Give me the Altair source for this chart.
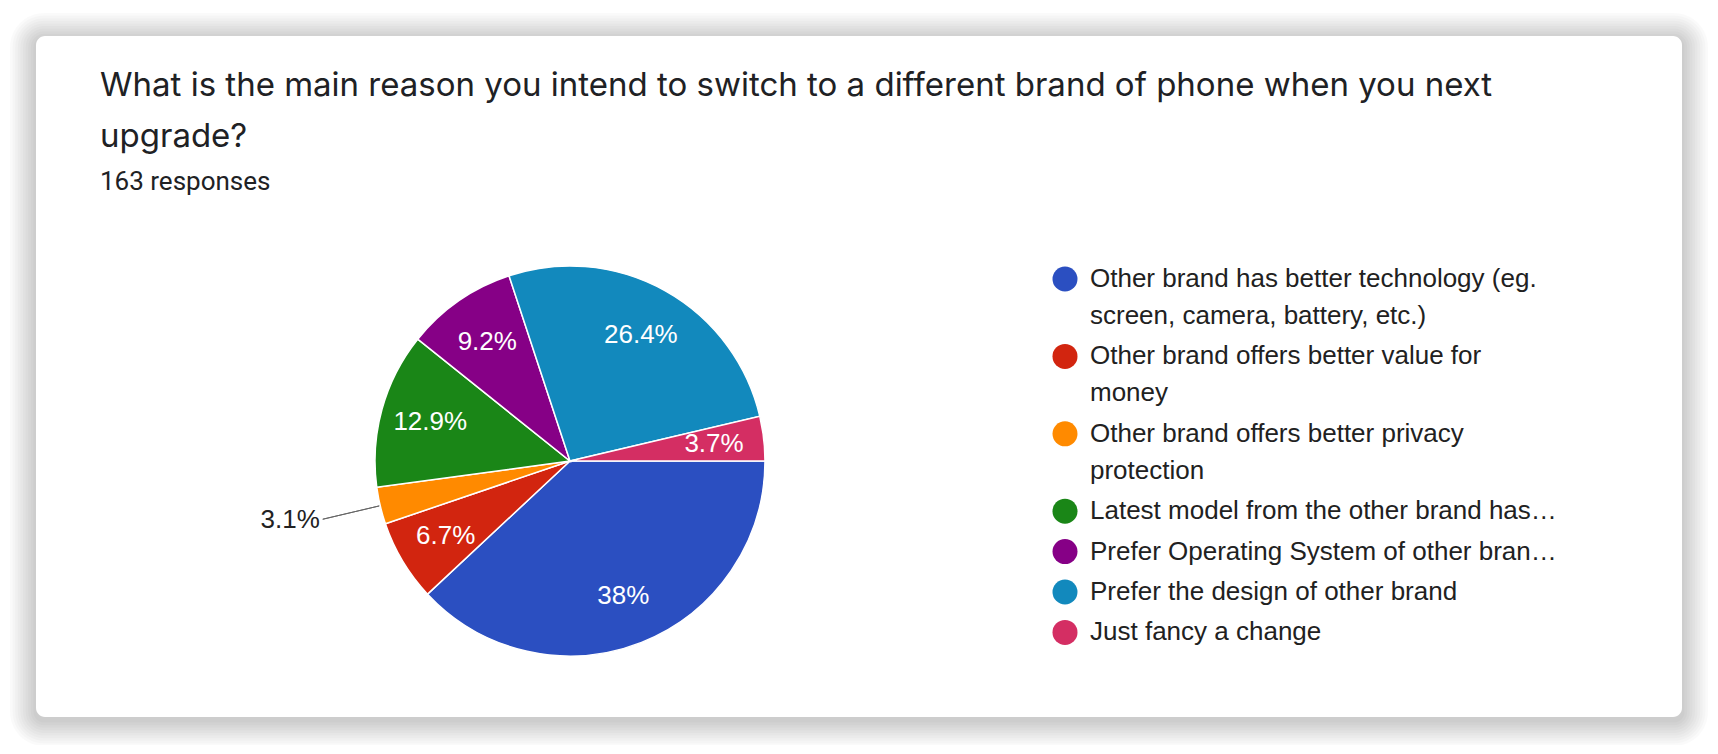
import math
import pandas as pd
import altair as alt

# ---------------- data ----------------
categories = [
    "Other brand has better technology (eg.\nscreen, camera, battery, etc.)",
    "Other brand offers better value for\nmoney",
    "Other brand offers better privacy\nprotection",
    "Latest model from the other brand has…",
    "Prefer Operating System of other bran…",
    "Prefer the design of other brand",
    "Just fancy a change",
]
responses = [62, 11, 5, 21, 15, 43, 6]
colors = ["#2b4fc1", "#d2250f", "#ff8a00", "#1a8617", "#860086", "#1289bd", "#d42e63"]
title_lines = [
    "What is the main reason you intend to switch to a different brand of phone when you next",
    "upgrade?",
]
subtitle = "163 responses"

# ---------------- layout constants ----------------
W, H = 1646, 681          # card (view) size
CX, CY = 534, 425         # pie centre inside the card
R = 195                   # pie radius
INK = "#202124"

df = pd.DataFrame({"reason": categories, "responses": responses, "order": list(range(len(categories)))})

theta_scale = alt.Scale(domain=[0, 1], range=[math.pi / 2, math.pi / 2 + 2 * math.pi])

base = (
    alt.Chart(df)
    .transform_window(cum="sum(responses)", sort=[alt.SortField("order")], frame=[None, 0])
    .transform_joinaggregate(total="sum(responses)")
    .transform_calculate(
        start="(datum.cum - datum.responses) / datum.total",
        end="datum.cum / datum.total",
        mid="(datum.cum - datum.responses / 2) / datum.total",
        pct="100 * datum.responses / datum.total",
        label="format(100 * datum.responses / datum.total, '.1~f') + '%'",
    )
)

legend = alt.Legend(
    title=None,
    orient="none",
    legendX=1016,
    legendY=230,
    direction="vertical",
    padding=0,
    symbolType="circle",
    symbolSize=625,
    symbolStrokeWidth=0,
    symbolOpacity=1,
    labelFont="Liberation Sans",
    labelFontSize=26,
    labelColor="#212121",
    labelLimit=900,
    labelOffset=12,
    rowPadding=14.4,
    labelExpr="split(datum.label, '\\n')",
)

pie = base.mark_arc(radius=R, stroke="white", strokeWidth=1.5).encode(
    theta=alt.Theta("start:Q", scale=theta_scale, stack=False),
    theta2="end:Q",
    color=alt.Color("reason:N", scale=alt.Scale(domain=categories, range=colors), legend=legend),
    x=alt.value(CX),
    y=alt.value(CY),
)

leader = (
    base.transform_filter("datum.pct < 3.5")
    .mark_arc(radius=R + 1, radius2=R + 59, stroke="#666666", strokeWidth=1, fillOpacity=0)
    .encode(
        theta=alt.Theta("mid:Q", scale=theta_scale, stack=False),
        theta2="mid:Q",
        x=alt.value(CX),
        y=alt.value(CY),
    )
)

labels_in = (
    base.transform_filter("datum.pct >= 3.5")
    .mark_text(radius=145, font="Liberation Sans", fontSize=26, color="white", align="center", baseline="middle")
    .encode(
        theta=alt.Theta("mid:Q", scale=theta_scale, stack=False),
        text="label:N",
        x=alt.value(CX),
        y=alt.value(CY),
    )
)

labels_out = (
    base.transform_filter("datum.pct < 3.5")
    .mark_text(radius=R + 62, font="Liberation Sans", fontSize=26, color="#222222", align="right", baseline="middle")
    .encode(
        theta=alt.Theta("mid:Q", scale=theta_scale, stack=False),
        text="label:N",
        x=alt.value(CX),
        y=alt.value(CY),
    )
)


def text_layer(txt, x, y, size, font):
    return (
        alt.Chart(pd.DataFrame({"t": [txt]}))
        .mark_text(align="left", baseline="alphabetic", font=font, fontSize=size, color=INK)
        .encode(text="t:N", x=alt.value(x), y=alt.value(y))
    )


dummy = pd.DataFrame({"k": [0]})
shadow_layers = []
for i in range(1, 11):
    e = 2.6 * i
    shadow_layers.append(
        alt.Chart(dummy)
        .mark_rect(cornerRadius=8 + e, color="black", opacity=0.018)
        .encode(x=alt.value(-e), x2=alt.value(W + e), y=alt.value(-e + 3), y2=alt.value(H + e + 3))
    )

card = (
    alt.Chart(dummy)
    .mark_rect(cornerRadius=9, color="white")
    .encode(x=alt.value(0), x2=alt.value(W), y=alt.value(0), y2=alt.value(H))
)

chart = (
    alt.layer(
        *shadow_layers,
        card,
        pie,
        leader,
        labels_in,
        labels_out,
        text_layer(title_lines[0], 64, 60, 33, "Inter"),
        text_layer(title_lines[1], 64, 111, 33, "Inter"),
        text_layer(subtitle, 64, 154, 26, "Roboto"),
    )
    .properties(
        width=W,
        height=H,
        padding={"left": 28, "top": 28, "right": 28, "bottom": 28},
        autosize=alt.AutoSizeParams(type="none"),
        background="white",
    )
    .configure(style={"guide-label": {"lineHeight": 37}})
    .configure_view(strokeWidth=0)
)

chart.save("out.html", embed_options={"renderer": "svg", "actions": False})
